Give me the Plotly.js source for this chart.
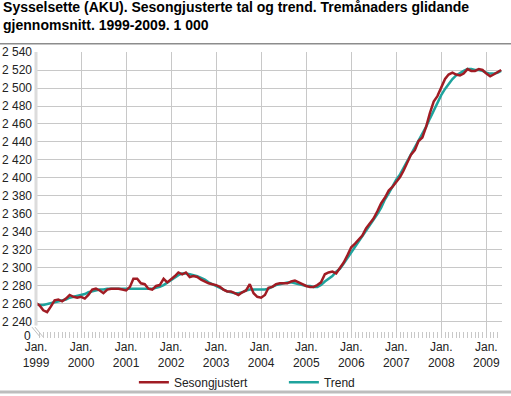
<!DOCTYPE html>
<html>
<head>
<meta charset="utf-8">
<script src="https://cdn.plot.ly/plotly-3.0.1.min.js"></script>
<style>
html,body{margin:0;padding:0;background:#fff;}
#chart{width:511px;height:396px;}
</style>
</head>
<body>
<div id="chart"></div>
<script>
// Monthly values, Jan 1999 - May 2009 (1 000 persons)
var startYear = 1999;
var sesongjustert = [
  2261,2258,2253,2251,2257,2264,2265,2263,2266,2270,2268,2267,
  2268,2266,2270,2276,2277,2275,2272,2276,2277,2277,2277,2276,
  2275,2279,2288,2288,2283,2282,2277,2276,2280,2281,2288,2284,
  2287,2291,2295,2293,2295,2290,2291,2290,2287,2285,2283,2282,
  2281,2279,2276,2274,2274,2272,2270,2273,2275,2282,2272,2268,
  2267,2270,2278,2279,2282,2283,2283,2283,2285,2286,2284,2282,
  2280,2279,2279,2281,2284,2293,2295,2296,2294,2300,2306,2314,
  2323,2327,2331,2336,2344,2350,2355,2363,2372,2378,2386,2390,
  2395,2401,2408,2418,2426,2431,2441,2445,2457,2472,2485,2491,
  2500,2510,2515,2517,2515,2514,2516,2521,2519,2519,2521,2520,
  2516,2513,2515,2518,2520
];
var trend = [
  2260,2259,2259,2260,2261,2262,2263,2264,2265,2267,2268,2269,
  2270,2271,2273,2274,2275,2276,2276,2277,2277,2277,2277,2277,
  2277,2277,2277,2277,2277,2277,2277,2277,2278,2279,2281,2284,
  2287,2290,2292,2294,2294,2293,2292,2291,2289,2287,2284,2282,
  2280,2278,2276,2274,2273,2272,2272,2273,2275,2276,2276,2276,
  2276,2276,2277,2279,2281,2282,2283,2284,2284,2283,2282,2281,
  2280,2280,2279,2279,2281,2285,2288,2291,2296,2299,2305,2311,
  2318,2324,2329,2335,2341,2348,2353,2360,2367,2376,2383,2391,
  2398,2404,2411,2418,2426,2433,2440,2448,2457,2466,2475,2484,
  2492,2499,2505,2510,2514,2517,2519,2521,2521,2520,2520,2519,
  2517,2516,2516,2517,2519
];
var yTicks = [2240,2260,2280,2300,2320,2340,2360,2380,2400,2420,2440,2460,2480,2500,2520,2540];
var yTickText = ["2 240","2 260","2 280","2 300","2 320","2 340","2 360","2 380","2 400","2 420","2 440","2 460","2 480","2 500","2 520","2 540"];

var months = [];
for (var i = 0; i < sesongjustert.length; i++) {
  var y = startYear + Math.floor(i / 12);
  var m = (i % 12) + 1;
  months.push(y + "-" + (m < 10 ? "0" + m : m) + "-01");
}

var font = "Liberation Sans, Arial, sans-serif";
var grey = "#c8c8c8";

var traces = [
  {x: months, y: trend, name: "Trend", type: "scatter", mode: "lines",
   line: {color: "#1fa39d", width: 2.5}, legendrank: 2, hoverinfo: "x+y"},
  {x: months, y: sesongjustert, name: "Sesongjustert", type: "scatter", mode: "lines",
   line: {color: "#a01c24", width: 2.5}, legendrank: 1, hoverinfo: "x+y"}
];

var layout = {
  width: 511, height: 396,
  margin: {l: 36, r: 9, t: 52, b: 58, autoexpand: false},
  paper_bgcolor: "#fff", plot_bgcolor: "#fff",
  font: {family: font, size: 12, color: "#222"},
  title: {
    text: "Sysselsette (AKU). Sesongjusterte tal og trend. Tremånaders glidande<br>gjennomsnitt. 1999-2009. 1 000",
    x: 0.006, xanchor: "left", xref: "container",
    y: 0.97, yanchor: "top", yref: "container",
    font: {family: font, size: 14, color: "#000", weight: "bold"}
  },
  showlegend: true,
  legend: {
    orientation: "h", xref: "container", x: 0.262, xanchor: "left",
    yref: "container", y: 0.035, yanchor: "middle",
    font: {family: font, size: 12, color: "#222"}, entrywidth: 105,
    bgcolor: "rgba(0,0,0,0)"
  },
  xaxis: {
    type: "date", automargin: false,
    range: ["1999-01-01", "2009-05-08"],
    tick0: "1999-01-01", dtick: "M12",
    tickformat: "%b.<br>%Y",
    ticks: "inside", ticklen: 6, tickcolor: grey, tickwidth: 1,
    showgrid: true, gridcolor: grey, gridwidth: 1,
    showline: false, zeroline: false,
    tickfont: {family: font, size: 12, color: "#222"},
    minor: {dtick: "M1", ticks: "inside", ticklen: 6, tickcolor: grey, tickwidth: 1, showgrid: false},
    fixedrange: true
  },
  yaxis: {
    automargin: false,
    range: [2222.2, 2540],
    tickvals: yTicks, ticktext: yTickText,
    showgrid: true, gridcolor: grey, gridwidth: 1,
    showline: false, zeroline: false, ticks: "",
    ticklabelstandoff: 3,
    tickfont: {family: font, size: 12, color: "#222"},
    fixedrange: true
  },
  annotations: [
    {text: "0", xref: "paper", yref: "y", x: 0, y: 2222.2, xanchor: "right", yanchor: "middle",
     xshift: -3, yshift: 2, showarrow: false, font: {family: font, size: 12, color: "#222"}}
  ],
  shapes: [
    {type: "line", xref: "paper", yref: "y", x0: 0, x1: 0, y0: 2236, y1: 2540,
     line: {color: "#dcdcdc", width: 3}},
    {type: "line", xref: "paper", yref: "paper", x0: -0.0086, x1: 0.0086, y0: 0.038, y1: 0.004,
     line: {color: "#c0c0c0", width: 1}},
    {type: "line", xref: "paper", yref: "paper", x0: -0.0021, x1: 0.0150, y0: 0.038, y1: 0.004,
     line: {color: "#c0c0c0", width: 1}},
    {type: "line", xref: "paper", yref: "paper", x0: -0.078, x1: 1.02, y0: 1.029, y1: 1.029,
     line: {color: "#8c8c8c", width: 1.5}},
    {type: "line", xref: "paper", yref: "paper", x0: -0.078, x1: 1.02, y0: -0.189, y1: -0.189,
     line: {color: "#bdbdbd", width: 3}}
  ]
};

Plotly.newPlot("chart", traces, layout, {displayModeBar: false, staticPlot: true});
</script>
</body>
</html>
